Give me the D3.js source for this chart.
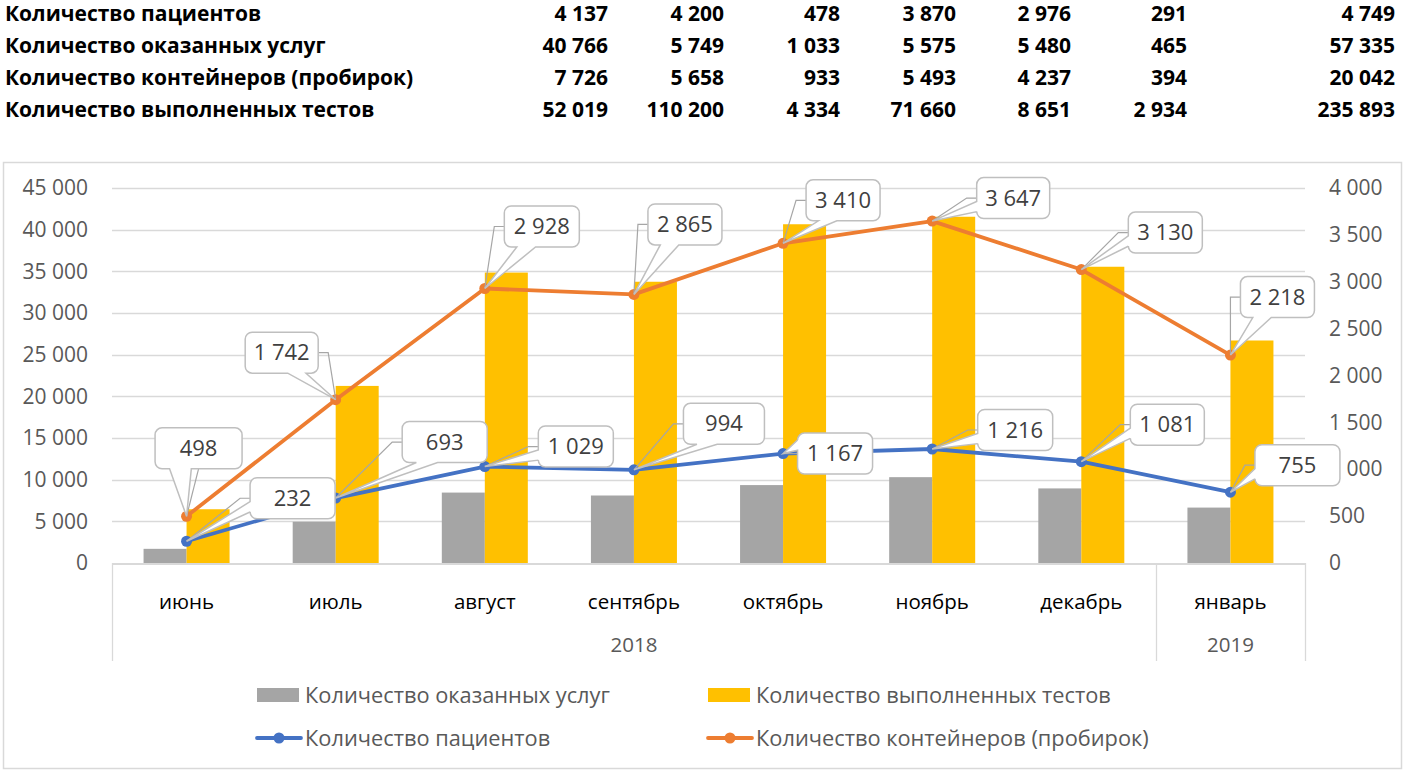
<!DOCTYPE html>
<html><head><meta charset="utf-8">
<script src="https://cdn.jsdelivr.net/npm/d3@7"></script>
<style>
html,body{margin:0;padding:0;background:#fff;}
svg{display:block;}
</style></head>
<body>
<svg id="c" width="1411" height="777"></svg>
<script>
// ---------- DATA ----------
const categories = ['июнь','июль','август','сентябрь','октябрь','ноябрь','декабрь','январь'];
const years = ['2018','2018','2018','2018','2018','2018','2018','2019'];
const services = [1700, 4950, 8450, 8100, 9350, 10300, 8950, 6650];      // Количество оказанных услуг
const tests = [6450, 21250, 34850, 33750, 40650, 41550, 35550, 26700];    // Количество выполненных тестов
const patients = [232, 693, 1029, 994, 1167, 1216, 1081, 755];           // Количество пациентов
const containers = [498, 1742, 2928, 2865, 3410, 3647, 3130, 2218];      // Количество контейнеров (пробирок)
const leftTicks = [0,5000,10000,15000,20000,25000,30000,35000,40000,45000];
const rightTicks = [0,500,1000,1500,2000,2500,3000,3500,4000];
const seriesNames = ['Количество оказанных услуг','Количество выполненных тестов','Количество пациентов','Количество контейнеров (пробирок)'];

const tableLabels = ['Количество пациентов','Количество оказанных услуг','Количество контейнеров (пробирок)','Количество выполненных тестов'];
const tablePatients = [4137, 4200, 478, 3870, 2976, 291, 4749];
const tableServices = [40766, 5749, 1033, 5575, 5480, 465, 57335];
const tableContainers = [7726, 5658, 933, 5493, 4237, 394, 20042];
const tableTests = [52019, 110200, 4334, 71660, 8651, 2934, 235893];

// ---------- LAYOUT (not data) ----------
const W = 1411, H = 777;
const plot = {l:112, r:1305, t:188, b:563};
const colRight = [608, 724, 840, 956, 1071, 1187, 1395];
// callout placement: [dx, dy, boxWidth] relative to data point
const containerCallouts = [[12,-68,87],[-54,-47,73],[57,-62,75],[51,-70,74],[60,-43,74],[81,-23,73],[84,-37,74],[47,-58,74]];
const patientCallouts = [[106,-43,85],[109,-56,85],[91,-20,75],[90,-46,81],[52,0,75],[83,-19,75],[86,-37,74],[67,-27,85]];

const C = {gray:'#A5A5A5', yellow:'#FFC000', blue:'#4472C4', orange:'#ED7D31', grid:'#D9D9D9', txt:'#595959'};
const FONT = "'Open Sans', 'Noto Sans', sans-serif";

const loc = d3.formatLocale({decimal:',', thousands:' ', grouping:[3], currency:['','']});
const fmt = loc.format(',d');

const svg = d3.select('#c');
svg.append('rect').attr('width',W).attr('height',H).attr('fill','#fff');

// ---------- top table ----------
const tbl = svg.append('g').attr('font-family',FONT).attr('font-weight','bold').attr('font-size',21).attr('fill','#000');
const tableRows = [tablePatients, tableServices, tableContainers, tableTests];
tableLabels.forEach((lab,i)=>{
  const y = 21 + i*32;
  tbl.append('text').attr('x',5).attr('y',y).text(lab);
  tableRows[i].forEach((v,j)=>{
    tbl.append('text').attr('x',colRight[j]).attr('y',y).attr('text-anchor','end').text(fmt(v));
  });
});

// ---------- chart frame ----------
svg.append('rect').attr('x',3.5).attr('y',162.5).attr('width',1398).attr('height',606)
  .attr('fill','none').attr('stroke',C.grid).attr('stroke-width',1.5);

const x = d3.scaleBand().domain(categories).range([plot.l, plot.r]).paddingInner(0).paddingOuter(0);
const yL = d3.scaleLinear().domain([0,45000]).range([plot.b, plot.t]);
const yR = d3.scaleLinear().domain([0,4000]).range([plot.b, plot.t]);
const barW = 43;
const cx = d => x(d) + x.bandwidth()/2;

// gridlines
svg.append('g').selectAll('line').data(leftTicks.filter(t=>t>0)).join('line')
  .attr('x1',plot.l).attr('x2',plot.r)
  .attr('y1',d=>Math.round(yL(d))+0.5).attr('y2',d=>Math.round(yL(d))+0.5)
  .attr('stroke',C.grid).attr('stroke-width',1.3);

// axes
const axL = svg.append('g').attr('transform',`translate(${plot.l-24},0)`)
  .call(d3.axisLeft(yL).tickValues(leftTicks).tickSize(0).tickFormat(fmt));
const axR = svg.append('g').attr('transform',`translate(${1329},0)`)
  .call(d3.axisRight(yR).tickValues(rightTicks).tickSize(0).tickPadding(0).tickFormat(fmt));
[axL, axR].forEach(a=>{
  a.select('.domain').remove();
  a.selectAll('text').attr('font-family',FONT).attr('font-size',21).attr('fill',C.txt);
});
axL.selectAll('text').attr('x',0);

// bars
svg.append('g').selectAll('rect').data(services).join('rect')
  .attr('x',(d,i)=>cx(categories[i])-barW).attr('width',barW)
  .attr('y',d=>yL(d)).attr('height',d=>plot.b-yL(d)).attr('fill',C.gray);
svg.append('g').selectAll('rect').data(tests).join('rect')
  .attr('x',(d,i)=>cx(categories[i])).attr('width',barW)
  .attr('y',d=>yL(d)).attr('height',d=>plot.b-yL(d)).attr('fill',C.yellow);

// category axis
const cat = svg.append('g');
cat.append('line').attr('x1',plot.l).attr('x2',plot.r).attr('y1',plot.b+1).attr('y2',plot.b+1)
  .attr('stroke',C.grid).attr('stroke-width',2);
const yearGroups = d3.groups(categories.map((c,i)=>({c,y:years[i]})), d=>d.y);
const bounds = [plot.l];
yearGroups.forEach(g=>{ bounds.push(x(g[1][g[1].length-1].c)+x.bandwidth()); });
cat.selectAll('line.sep').data(bounds).join('line').attr('class','sep')
  .attr('x1',d=>Math.round(d)+0.5).attr('x2',d=>Math.round(d)+0.5).attr('y1',plot.b).attr('y2',661)
  .attr('stroke',C.grid).attr('stroke-width',1.3);
cat.selectAll('text.cat').data(categories).join('text').attr('class','cat')
  .attr('x',d=>cx(d)).attr('y',609).attr('text-anchor','middle')
  .attr('font-family',FONT).attr('font-size',20.5).attr('fill','#000').text(d=>d);
cat.selectAll('text.yr').data(yearGroups).join('text').attr('class','yr')
  .attr('x',g=>(x(g[1][0].c)+x(g[1][g[1].length-1].c)+x.bandwidth())/2).attr('y',652).attr('text-anchor','middle')
  .attr('font-family',FONT).attr('font-size',20.5).attr('fill',C.txt).text(g=>g[0]);

// lines
function drawLine(vals, color){
  const g = svg.append('g');
  g.append('path').datum(vals)
    .attr('d', d3.line().x((d,i)=>cx(categories[i])).y(d=>yR(d)))
    .attr('fill','none').attr('stroke',color).attr('stroke-width',3.8).attr('stroke-linejoin','round').attr('stroke-linecap','round');
  g.selectAll('circle').data(vals).join('circle')
    .attr('cx',(d,i)=>cx(categories[i])).attr('cy',d=>yR(d)).attr('r',5.5).attr('fill',color);
}
drawLine(patients, C.blue);
drawLine(containers, C.orange);

// callouts (Excel wedgeRoundRectCallout + leader line)
function calloutPath(l,t,w,h,px,py){
  const r = 7, R = l+w, B = t+h;
  const hc = l+w/2, vc = t+h/2;
  const dxP = px-hc, dyP = py-vc;
  const dq = dxP*h/w;
  const dz = Math.abs(dyP) - Math.abs(dq);
  let side;
  if (dz > 0) side = dyP > 0 ? 'b' : 't'; else side = dxP > 0 ? 'r' : 'l';
  const xg1 = dxP>0?7:2, xg2 = dxP>0?10:5, yg1 = dyP>0?7:2, yg2 = dyP>0?10:5;
  const x1 = l+w*xg1/12, x2 = l+w*xg2/12, y1 = t+h*yg1/12, y2 = t+h*yg2/12;
  const p = d3.path();
  p.moveTo(l, t+r);
  p.arcTo(l, t, l+r, t, r);
  if (side==='t'){ p.lineTo(x1,t); p.lineTo(px,py); p.lineTo(x2,t); }
  p.lineTo(R-r, t);
  p.arcTo(R, t, R, t+r, r);
  if (side==='r'){ p.lineTo(R,y1); p.lineTo(px,py); p.lineTo(R,y2); }
  p.lineTo(R, B-r);
  p.arcTo(R, B, R-r, B, r);
  if (side==='b'){ p.lineTo(x2,B); p.lineTo(px,py); p.lineTo(x1,B); }
  p.lineTo(l+r, B);
  p.arcTo(l, B, l, B-r, r);
  if (side==='l'){ p.lineTo(l,y2); p.lineTo(px,py); p.lineTo(l,y1); }
  p.closePath();
  return p.toString();
}
function leaderPath(l,t,w,h,px,py){
  const R = l+w, B = t+h, vc = t+h/2;
  if (px >= l && px <= R){
    const yy = py > vc ? B : t;
    return `M${l+w/2},${yy}L${px},${py}`;
  }
  if (px < l) return `M${l},${vc}L${l-10},${vc}L${px},${py}`;
  return `M${R},${vc}L${R+10},${vc}L${px},${py}`;
}
function drawCallouts(vals, layout){
  const g = svg.append('g');
  const BH = 41;
  vals.forEach((v,i)=>{
    const px = cx(categories[i]), py = yR(v);
    const [dx,dy,w] = layout[i];
    const l = px+dx-w/2, t = py+dy-BH/2;
    g.append('path').attr('d',leaderPath(l,t,w,BH,px,py)).attr('fill','none').attr('stroke','#A6A6A6').attr('stroke-width',1.2);
    g.append('path').attr('d',calloutPath(l,t,w,BH,px,py)).attr('fill','#fff').attr('stroke','#BFBFBF').attr('stroke-width',1.5);
    g.append('text').attr('x',l+w/2).attr('y',t+BH/2+7.5).attr('text-anchor','middle')
      .attr('font-family',FONT).attr('font-size',22).attr('fill','#404040').text(fmt(v));
  });
}
drawCallouts(containers, containerCallouts);
drawCallouts(patients, patientCallouts);

// legend
const leg = svg.append('g').attr('font-family',FONT).attr('font-size',21.8).attr('fill',C.txt);
const legItems = [
  {name:seriesNames[0], type:'rect', color:C.gray, x:257, y:695},
  {name:seriesNames[1], type:'rect', color:C.yellow, x:708, y:695},
  {name:seriesNames[2], type:'line', color:C.blue, x:257, y:738},
  {name:seriesNames[3], type:'line', color:C.orange, x:708, y:738}
];
legItems.forEach(it=>{
  if (it.type==='rect'){
    leg.append('rect').attr('x',it.x).attr('y',it.y-7).attr('width',42).attr('height',14).attr('fill',it.color);
  } else {
    leg.append('line').attr('x1',it.x).attr('x2',it.x+44).attr('y1',it.y).attr('y2',it.y)
      .attr('stroke',it.color).attr('stroke-width',3.8).attr('stroke-linecap','round');
    leg.append('circle').attr('cx',it.x+22).attr('cy',it.y).attr('r',5.5).attr('fill',it.color);
  }
  leg.append('text').attr('x',it.x+48).attr('y',it.y+7.5).text(it.name);
});
</script>
</body></html>
